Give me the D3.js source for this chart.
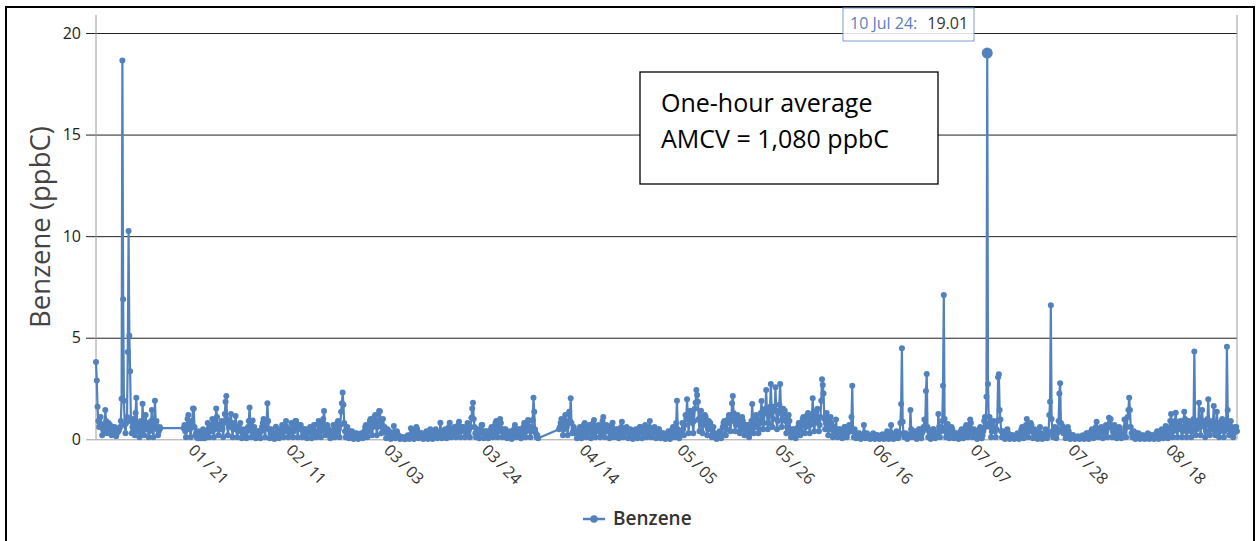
<!DOCTYPE html>
<html>
<head>
<meta charset="utf-8">
<script src="https://cdn.jsdelivr.net/npm/d3@7"></script>
<style>
  body { margin: 0; background: #fff; }
  svg { display: block; }
  text { font-family: "Open Sans", "DejaVu Sans", sans-serif; }
</style>
</head>
<body>
<svg id="chart" width="1257" height="541"></svg>
<script>
// Benzene readings (ppbC), six slots per day at 00, 04, 08, 12, 16 and 20 h; null = no reading.
const jan = [
  3.8, 2.9, 1.6, 0.9, 0.6, 0.8,     1.1, 0.7, 0.2, 0.5, 0.7, 0.4,     1.44, 0.9, 0.3, 0.6, 0.8, 0.5,
  0.7, 0.5, 0.2, 0.4, 0.6, 0.3,     0.6, 0.4, 0.15, 0.3, 0.5, 0.4,    0.5, 0.6, 0.9, 2.0, 18.65, 6.9,
  1.9, 0.7, 0.3, 0.8, 1.1, 4.3,     10.25, 5.1, 3.35, 0.9, 0.3, 0.6,  1.0, 0.5, 0.2, 1.3, 2.05, 0.8,
  0.6, 0.4, 0.1, 0.5, 0.9, 0.3,     1.75, 0.8, 0.2, 0.6, 1.2, 0.5,    0.8, 0.5, 0.1, 0.4, 0.6, 0.9,
  1.44, 0.6, 0.1, 0.7, 1.9, 0.8,    0.9, 0.5, 0.2, 0.4, 0.6, 0.55,
  null, null, null, null, null, null, null, null, null, null, null, null,
  null, null, null, null, null, null, null, null, null, null, null, null,
  null, null, null, null, null, 0.55,
  0.7, 0.4, 0.1, 0.6, 1.0, 1.2,     0.8, 0.5, 0.1, 0.6, 0.9, 1.52,    1.5, 0.6, 0.2, 0.3, 0.1, 0.05,
  0.4, 0.2, 0.05, 0.3, 0.2, 0.05,   0.5, 0.3, 0.05, 0.4, 0.3, 0.1,    0.8, 0.5, 0.1, 0.5, 0.7, 0.4,
  1.0, 0.6, 0.1, 0.5, 0.8, 1.52,    1.1, 0.7, 0.2, 0.5, 0.7, 0.6,     0.9, 0.5, 0.1, 0.8, 1.24, 1.85,
  2.13, 1.0, 0.2, 0.6, 0.9, 0.7,    1.24, 0.7, 0.1, 0.5, 0.8, 0.6,    1.15, 0.6, 0.1, 0.4, 0.6, 0.5
];
const feb = [
  0.8, 0.4, 0.05, 0.3, 0.5, 0.4,    0.4, 0.2, 0.05, 0.4, 0.6, 0.9,    1.56, 0.8, 0.1, 0.5, 0.92, 0.4,
  0.6, 0.3, 0.05, 0.2, 0.3, 0.4,    0.4, 0.3, 0.05, 0.4, 0.6, 0.8,    1.0, 0.5, 0.1, 0.6, 0.9, 1.77,
  0.9, 0.5, 0.05, 0.3, 0.5, 0.3,    0.3, 0.2, 0.02, 0.3, 0.62, 0.2,   0.4, 0.3, 0.05, 0.3, 0.5, 0.4,
  0.7, 0.4, 0.1, 0.4, 0.5, 0.9,     0.6, 0.4, 0.1, 0.3, 0.4, 0.5,     0.8, 0.5, 0.1, 0.4, 0.6, 0.9,
  0.9, 0.6, 0.1, 0.5, 0.7, 0.6,     0.7, 0.5, 0.1, 0.3, 0.5, 0.5,     0.5, 0.3, 0.05, 0.3, 0.4, 0.4,
  0.6, 0.4, 0.05, 0.3, 0.5, 0.7,    0.7, 0.4, 0.1, 0.3, 0.4, 0.9,     0.8, 0.5, 0.1, 0.4, 0.6, 1.0,
  1.39, 0.7, 0.2, 0.5, 0.7, 0.5,    0.5, 0.3, 0.05, 0.3, 0.4, 0.4,    0.7, 0.4, 0.1, 0.3, 0.5, 0.8,
  0.9, 0.5, 0.1, 0.7, 1.36, 1.77,   2.3, 1.7, 0.8, 0.4, 0.1, 0.3,     0.6, 0.4, 0.05, 0.3, 0.4, 0.3,
  0.4, 0.2, 0.02, 0.2, 0.3, 0.2,    0.3, 0.1, 0.02, 0.1, 0.2, 0.2,    0.3, 0.2, 0.05, 0.3, 0.4, 0.6,
  0.7, 0.5, 0.1, 0.4, 0.6, 0.9,     1.0, 0.7, 0.2, 0.6, 0.8, 1.1
];
const mar = [
  1.2, 0.8, 0.2, 0.6, 0.9, 1.39,    1.38, 0.9, 0.3, 0.7, 1.0, 0.5,    0.6, 0.4, 0.05, 0.3, 0.5, 0.3,
  0.4, 0.2, 0.02, 0.2, 0.3, 0.3,    0.66, 0.3, 0.05, 0.2, 0.4, 0.2,   0.2, 0.1, 0.02, 0.1, 0.1, 0.1,
  0.1, 0.05, 0.0, 0.05, 0.1, 0.05,  0.2, 0.1, 0.02, 0.2, 0.55, 0.2,   0.4, 0.2, 0.02, 0.2, 0.3, 0.6,
  0.5, 0.3, 0.05, 0.2, 0.3, 0.3,    0.3, 0.2, 0.02, 0.1, 0.2, 0.2,    0.4, 0.2, 0.02, 0.2, 0.3, 0.5,
  0.3, 0.2, 0.02, 0.1, 0.2, 0.3,    0.5, 0.3, 0.05, 0.2, 0.3, 0.3,    0.82, 0.4, 0.05, 0.3, 0.4, 0.4,
  0.5, 0.3, 0.05, 0.3, 0.4, 0.6,    0.82, 0.5, 0.1, 0.3, 0.5, 0.4,    0.6, 0.4, 0.1, 0.3, 0.5, 0.7,
  0.87, 0.5, 0.1, 0.4, 0.6, 0.5,    0.6, 0.4, 0.1, 0.3, 0.5, 0.8,     0.7, 0.5, 0.1, 0.6, 1.06, 1.52,
  1.8, 1.0, 0.6, 0.3, 0.1, 0.4,     0.5, 0.3, 0.05, 0.3, 0.4, 0.7,    0.7, 0.4, 0.05, 0.3, 0.4, 0.3,
  0.4, 0.3, 0.05, 0.2, 0.3, 0.5,    0.6, 0.4, 0.1, 0.3, 0.5, 0.8,     0.9, 0.5, 0.1, 0.4, 0.6, 1.0,
  0.8, 0.5, 0.1, 0.3, 0.5, 0.4,     0.5, 0.3, 0.05, 0.2, 0.3, 0.3,    0.4, 0.2, 0.02, 0.2, 0.3, 0.5,
  0.7, 0.4, 0.1, 0.3, 0.5, 0.4
];
const apr = [
  0.5, 0.3, 0.05, 0.3, 0.4, 0.6,    0.8, 0.5, 0.1, 0.4, 0.6, 0.95,    0.9, 0.6, 0.1, 0.4, 0.6, 0.95,
  2.05, 1.36, 0.5, 0.3, 0.1, 0.2,   0.05, null, null, null, null, null,
  null, null, null, null, null, null, null, null, null, null, null, null,
  null, null, null, null, null, null,
  null, null, null, 0.49, 0.6, 0.8,
  1.0, 0.7, 0.2, 0.5, 0.8, 1.2,     0.9, 0.6, 0.2, 0.8, 1.36, 0.9,    2.02, 0.8, 0.3, 0.4, 0.6, 0.3,
  0.4, 0.3, 0.05, 0.2, 0.3, 0.5,    0.6, 0.4, 0.05, 0.3, 0.4, 0.7,    0.8, 0.5, 0.1, 0.3, 0.5, 0.4,
  0.7, 0.4, 0.05, 0.3, 0.5, 0.8,    0.95, 0.6, 0.1, 0.4, 0.6, 0.4,    0.7, 0.5, 0.1, 0.3, 0.5, 0.9,
  1.1, 0.6, 0.1, 0.4, 0.7, 0.5,     0.6, 0.4, 0.05, 0.3, 0.5, 0.7,    0.82, 0.5, 0.1, 0.3, 0.5, 0.4,
  0.5, 0.3, 0.05, 0.3, 0.4, 0.6,    0.87, 0.5, 0.1, 0.3, 0.5, 0.4,    0.6, 0.4, 0.05, 0.3, 0.4, 0.5,
  0.4, 0.2, 0.02, 0.2, 0.3, 0.3,    0.5, 0.3, 0.05, 0.3, 0.4, 0.6,    0.6, 0.4, 0.05, 0.3, 0.5, 0.4,
  0.7, 0.4, 0.1, 0.3, 0.5, 0.6,     0.9, 0.5, 0.1, 0.3, 0.5, 0.4,     0.6, 0.4, 0.05, 0.3, 0.4, 0.5
];
const may = [
  0.5, 0.3, 0.05, 0.2, 0.3, 0.2,    0.3, 0.2, 0.02, 0.1, 0.2, 0.2,    0.4, 0.2, 0.02, 0.2, 0.3, 0.5,
  0.6, 0.4, 0.1, 0.5, 0.8, 1.9,     0.5, 0.3, 0.05, 0.3, 0.4, 0.3,    0.8, 0.5, 0.2, 0.7, 1.2, 1.0,
  1.97, 1.1, 0.3, 0.9, 1.4, 1.2,    1.3, 0.8, 0.3, 0.9, 1.5, 1.8,     2.43, 2.18, 1.85, 1.0, 0.4, 0.9,
  1.4, 0.8, 0.3, 0.7, 1.0, 1.2,     1.1, 0.7, 0.2, 0.5, 0.9, 0.6,     0.8, 0.5, 0.1, 0.3, 0.6, 0.3,
  0.3, 0.1, 0.02, 0.1, 0.2, 0.1,    0.4, 0.3, 0.05, 0.3, 0.6, 0.8,    0.9, 0.6, 0.2, 0.5, 0.8, 1.0,
  1.2, 0.8, 0.4, 1.0, 1.77, 2.13,   1.3, 0.9, 0.4, 0.7, 1.0, 1.2,     1.0, 0.7, 0.3, 0.5, 0.8, 1.1,
  0.9, 0.6, 0.2, 0.4, 0.7, 0.5,     0.7, 0.4, 0.1, 0.3, 0.5, 0.9,     1.74, 0.9, 0.3, 0.6, 1.0, 1.2,
  1.0, 0.7, 0.3, 0.5, 0.8, 1.3,     1.89, 1.1, 0.5, 0.8, 1.3, 1.5,    2.43, 1.4, 0.5, 0.8, 1.2, 1.6,
  2.72, 1.6, 0.6, 1.0, 1.6, 1.4,    2.56, 1.4, 0.5, 0.9, 1.3, 1.7,    2.72, 1.5, 0.6, 1.0, 1.5, 1.3,
  1.4, 0.9, 0.3, 0.6, 1.0, 1.2,     0.9, 0.5, 0.1, 0.3, 0.5, 0.3,     0.5, 0.3, 0.05, 0.2, 0.3, 0.6,
  0.8, 0.5, 0.2, 0.4, 0.7, 1.0
];
const jun = [
  1.1, 0.7, 0.3, 0.6, 0.9, 1.2,     1.3, 0.8, 0.3, 0.7, 1.0, 1.2,     2.02, 1.1, 0.4, 0.8, 1.2, 1.4,
  1.5, 1.0, 0.4, 0.7, 1.1, 1.9,     2.95, 2.67, 2.26, 1.0, 0.5, 0.8,  1.3, 0.8, 0.2, 0.5, 0.9, 1.1,
  0.8, 0.5, 0.1, 0.3, 0.6, 0.4,     0.97, 0.5, 0.1, 0.3, 0.5, 0.3,    0.5, 0.3, 0.05, 0.3, 0.4, 0.6,
  0.6, 0.4, 0.1, 0.3, 0.5, 0.7,     0.6, 0.4, 1.1, 2.63, 0.4, 0.1,    0.5, 0.3, 0.05, 0.2, 0.3, 0.2,
  0.3, 0.2, 0.02, 0.1, 0.2, 0.2,    0.7, 0.3, 0.05, 0.2, 0.3, 0.1,    0.2, 0.1, 0.02, 0.05, 0.1, 0.1,
  0.3, 0.2, 0.02, 0.1, 0.2, 0.2,    0.2, 0.1, 0.02, 0.1, 0.15, 0.1,   0.25, 0.15, 0.02, 0.1, 0.2, 0.2,
  0.4, 0.2, 0.02, 0.2, 0.3, 0.7,    0.3, 0.2, 0.02, 0.1, 0.2, 0.2,    0.4, 0.3, 0.05, 0.2, 0.3, 0.8,
  1.74, 4.48, 0.87, 0.3, 0.1, 0.2,  0.3, 0.2, 0.02, 0.1, 0.2, 0.2,    1.44, 0.5, 0.1, 0.2, 0.3, 0.2,
  0.4, 0.2, 0.02, 0.2, 0.3, 0.5,    0.5, 0.3, 0.05, 0.3, 0.4, 0.6,    0.97, 0.5, 2.38, 3.22, 0.6, 0.1,
  0.4, 0.2, 0.02, 0.2, 0.3, 0.5,    0.5, 0.3, 0.05, 0.2, 0.3, 0.3,    1.24, 0.6, 0.1, 0.4, 0.6, 0.9
];
const jul = [
  2.64, 7.1, 1.0, 0.4, 0.1, 0.3,    0.75, 0.4, 0.05, 0.3, 0.4, 0.6,   0.5, 0.3, 0.05, 0.2, 0.3, 0.2,
  0.3, 0.2, 0.02, 0.1, 0.2, 0.4,    0.5, 0.3, 0.05, 0.3, 0.4, 0.6,    0.7, 0.4, 0.1, 0.3, 0.5, 0.97,
  0.8, 0.5, 0.1, 0.3, 0.5, 0.4,     0.4, 0.2, 0.02, 0.2, 0.3, 0.5,    0.6, 0.4, 0.05, 0.2, 0.4, 0.9,
  1.1, 0.6, 2.1, 19.01, 2.72, 0.8,  1.1, 0.6, 0.1, 0.4, 0.7, 0.9,     0.6, 0.4, 0.1, 0.5, 0.9, 3.05,
  3.2, 1.44, 0.97, 0.4, 0.1, 0.3,   0.4, 0.2, 0.02, 0.2, 0.3, 0.5,    0.3, 0.2, 0.02, 0.1, 0.2, 0.2,
  0.2, 0.1, 0.02, 0.05, 0.1, 0.1,   0.3, 0.2, 0.02, 0.2, 0.3, 0.5,    0.6, 0.4, 0.05, 0.3, 0.4, 0.7,
  1.0, 0.6, 0.1, 0.4, 0.6, 0.8,     0.7, 0.4, 0.05, 0.3, 0.5, 0.4,    0.4, 0.2, 0.02, 0.2, 0.3, 0.6,
  0.3, 0.2, 0.02, 0.1, 0.2, 0.2,    0.5, 0.3, 0.05, 0.2, 0.3, 1.2,    1.85, 6.6, 1.0, 0.4, 0.1, 0.3,
  0.6, 0.4, 0.05, 0.3, 0.5, 0.9,    2.26, 2.76, 0.8, 0.4, 0.66, 0.3,  0.5, 0.3, 0.05, 0.3, 0.4, 0.6,
  0.4, 0.2, 0.02, 0.1, 0.2, 0.2,    0.2, 0.1, 0.02, 0.05, 0.1, 0.1,   0.15, 0.1, 0.02, 0.05, 0.1, 0.1,
  0.2, 0.1, 0.02, 0.05, 0.1, 0.3
];
const aug = [
  0.3, 0.2, 0.02, 0.1, 0.2, 0.4,    0.5, 0.3, 0.05, 0.3, 0.4, 0.6,    0.87, 0.5, 0.1, 0.3, 0.5, 0.4,
  0.6, 0.4, 0.05, 0.3, 0.4, 0.5,    0.7, 0.5, 0.1, 0.6, 1.06, 0.8,    1.0, 0.6, 0.1, 0.4, 0.6, 0.7,
  0.5, 0.3, 0.05, 0.3, 0.4, 0.6,    0.5, 0.3, 0.05, 0.2, 0.3, 0.2,    0.97, 0.6, 0.1, 0.6, 1.1, 1.44,
  2.05, 1.44, 0.6, 0.3, 0.1, 0.3,   0.4, 0.2, 0.02, 0.2, 0.3, 0.2,    0.3, 0.2, 0.02, 0.1, 0.2, 0.1,
  0.2, 0.1, 0.02, 0.05, 0.1, 0.1,   0.3, 0.2, 0.02, 0.1, 0.2, 0.2,    0.2, 0.1, 0.02, 0.05, 0.1, 0.3,
  0.4, 0.2, 0.02, 0.1, 0.2, 0.2,    0.5, 0.3, 0.05, 0.2, 0.3, 0.66,   0.6, 0.4, 0.05, 0.3, 0.5, 0.9,
  1.24, 0.7, 0.1, 0.4, 0.6, 0.9,    1.31, 0.8, 0.1, 0.5, 0.8, 0.7,    0.9, 0.6, 0.1, 0.4, 0.6, 1.36,
  1.0, 0.6, 0.1, 0.4, 0.7, 0.9,     0.8, 0.5, 0.1, 0.4, 0.6, 1.0,     4.32, 0.9, 0.2, 0.5, 0.9, 0.7,
  1.8, 0.8, 0.2, 0.9, 1.44, 0.8,    0.9, 0.6, 0.1, 0.4, 0.7, 1.0,     1.97, 0.8, 0.2, 0.5, 0.8, 0.9,
  0.7, 1.64, 0.4, 0.2, 0.6, 1.36,   0.8, 0.5, 0.1, 0.4, 0.6, 0.9,     1.0, 0.6, 0.1, 0.4, 0.7, 0.8,
  4.56, 1.44, 0.5, 0.2, 0.6, 0.9
];
const sep = [
  0.6, 0.4, 0.1, 0.3, 0.5, 0.6,     0.6, 0.4
];

const monthValues = [jan, feb, mar, apr, may, jun, jul, aug, sep];
const monthStarts = ["2024-01-01", "2024-02-01", "2024-03-01", "2024-04-01", "2024-05-01",
                     "2024-06-01", "2024-07-01", "2024-08-01", "2024-09-01"];
const xTickDates = ["2024-01-21", "2024-02-11", "2024-03-03", "2024-03-24", "2024-04-14", "2024-05-05",
                    "2024-05-26", "2024-06-16", "2024-07-07", "2024-07-28", "2024-08-18"];
const yTickValues = [0, 5, 10, 15, 20];
const seriesName = "Benzene";
const yTitle = "Benzene (ppbC)";
const noteLines = ["One-hour average", "AMCV = 1,080 ppbC"];
const hoverPoint = { time: "2024-07-10T12:00:00Z", label: "10 Jul 24:", value: 19.01 };

const COLOR = "#5282be";
const SLOTS = 6, DAY = 864e5, SLOT = DAY / SLOTS;

// Flatten the monthly slot arrays into timestamped points
const points = [];
monthValues.forEach((vals, m) => {
  const start = new Date(monthStarts[m] + "T00:00:00Z").getTime();
  vals.forEach((v, i) => {
    if (v == null) return;
    points.push({ t: new Date(start + Math.floor(i / SLOTS) * DAY + (i % SLOTS) * SLOT), v });
  });
});

const svg = d3.select("#chart");
const plotL = 96, plotR = 1237, plotT = 15, plotB = 439.3;

const x = d3.scaleUtc().domain(d3.extent(points, d => d.t)).range([plotL, plotR]);
const y = d3.scaleLinear().domain([0, 20]).range([plotB, 33]);

// Outer frame
svg.append("rect").attr("x", 6).attr("y", 7).attr("width", 1248).attr("height", 640)
  .attr("fill", "none").attr("stroke", "#000").attr("stroke-width", 2);

// Horizontal grid with left tick marks and labels
const yAxis = svg.append("g").attr("transform", "translate(86,0)")
  .call(d3.axisLeft(y).tickValues(yTickValues).tickSizeInner(-(plotR - 86)).tickSizeOuter(0).tickPadding(5));
yAxis.select(".domain").remove();
yAxis.selectAll(".tick line").attr("stroke", d => d === 0 ? "#a0a0a0" : "#222").attr("stroke-width", 1);
yAxis.selectAll(".tick text").attr("font-size", 16).attr("fill", "#222")
  .attr("font-family", "'Open Sans', sans-serif");

// Plot border lines (left and right)
svg.append("line").attr("x1", plotL).attr("x2", plotL).attr("y1", plotT).attr("y2", plotB)
  .attr("stroke", "#9a9a9a");
svg.append("line").attr("x1", plotR).attr("x2", plotR).attr("y1", plotT).attr("y2", plotB)
  .attr("stroke", "#9a9a9a");

// Y axis title
svg.append("text").attr("transform", "translate(50,227) rotate(-90)")
  .attr("text-anchor", "middle").attr("font-size", 27.5).attr("fill", "#444").text(yTitle);

// X axis date labels, rotated
const fmt = d3.utcFormat("%m/%d");
const xAxis = svg.append("g").attr("transform", `translate(0,${plotB})`)
  .call(d3.axisBottom(x).tickValues(xTickDates.map(s => new Date(s + "T00:00:00Z"))).tickSize(0).tickFormat(fmt));
xAxis.select(".domain").remove();
xAxis.selectAll(".tick text").each(function (d) {
  const parts = fmt(d).split("/");
  const t = d3.select(this).text(null)
    .attr("x", 0).attr("y", 0).attr("dy", 0)
    .attr("text-anchor", "start").attr("font-size", 16).attr("fill", "#333")
    .attr("font-family", "'Open Sans', sans-serif")
    .attr("transform", "translate(-2,12) rotate(45)");
  t.append("tspan").text(parts[0]);
  t.append("tspan").attr("dx", 3).text("/");
  t.append("tspan").attr("dx", 3).text(parts[1]);
});

// Series line and markers
const line = d3.line().x(d => x(d.t)).y(d => y(d.v)).curve(d3.curveLinear);
svg.append("path").datum(points).attr("d", line)
  .attr("fill", "none").attr("stroke", COLOR).attr("stroke-width", 2.2).attr("stroke-linejoin", "round");
svg.append("g").selectAll("circle").data(points).join("circle")
  .attr("cx", d => x(d.t)).attr("cy", d => y(d.v)).attr("r", 3).attr("fill", COLOR);

// Note box
const nb = svg.append("g");
nb.append("rect").attr("x", 640).attr("y", 72).attr("width", 298).attr("height", 112)
  .attr("fill", "#fff").attr("stroke", "#000").attr("stroke-width", 1.3);
noteLines.forEach((s, i) => {
  nb.append("text").attr("x", 661).attr("y", 112 + i * 36).attr("font-size", 25).attr("fill", "#000").text(s);
});

// Hovered point and its tooltip
const hp = { t: new Date(hoverPoint.time), v: hoverPoint.value };
svg.append("circle").attr("cx", x(hp.t)).attr("cy", y(hp.v)).attr("r", 5.5).attr("fill", COLOR);
const tip = svg.append("g");
tip.append("rect").attr("x", 843).attr("y", 8).attr("width", 131).attr("height", 33)
  .attr("fill", "rgba(255,255,255,0.85)").attr("stroke", "#7c9ed2").attr("stroke-width", 1);
const tt = tip.append("text").attr("x", 850).attr("y", 28.5).attr("font-size", 16);
tt.append("tspan").attr("fill", "#5a7fbd").text(hoverPoint.label);
tt.append("tspan").attr("dx", 10).attr("fill", "#333").text(hoverPoint.value.toFixed(2));

// Legend
const lg = svg.append("g");
lg.append("line").attr("x1", 583).attr("x2", 605).attr("y1", 519).attr("y2", 519)
  .attr("stroke", COLOR).attr("stroke-width", 2.5);
lg.append("circle").attr("cx", 594).attr("cy", 519).attr("r", 3.8).attr("fill", COLOR);
lg.append("text").attr("x", 613).attr("y", 525).attr("font-size", 19).attr("font-weight", 600)
  .attr("fill", "#333").text(seriesName);
</script>
</body>
</html>
